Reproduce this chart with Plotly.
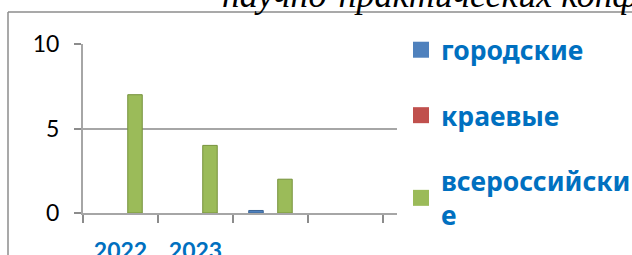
import plotly.graph_objects as go

# ---- data ----
categories = ["2022", "2023", "c3", "c4"]
tick_labels = ["2022", "2023", "", ""]
series_names = ["городские", "краевые", "всероссийски<br>е"]
gorodskie = [None, None, 0.15, None]
kraevye = [None, None, None, None]
vserossiyskie = [7, 4, 2, None]
y_ticks = [0, 5, 10]

colors = ["#4f81bd", "#c0504d", "#9bbb59"]
edge = ["#3a6496", "#943634", "#76923c"]
values = [gorodskie, kraevye, vserossiyskie]

W, H = 632, 255
def px_x(p):
    return p / W
def px_y(p):
    return (H - p) / H

fig = go.Figure()
for i, (name, vals) in enumerate(zip(series_names, values)):
    fig.add_trace(go.Bar(
        x=categories, y=vals, name=name,
        marker=dict(color=colors[i], line=dict(color=edge[i], width=1)),
        showlegend=False, legendgroup=f"g{i}",
    ))
    # legend proxy (square symbol)
    fig.add_trace(go.Scatter(
        x=[None], y=[None], mode="markers", name=name,
        marker=dict(symbol="square", size=16, color=colors[i]),
        legendgroup=f"g{i}", showlegend=True,
    ))

fig.update_layout(
    width=W, height=H,
    margin=dict(l=0, r=0, t=0, b=0, autoexpand=False),
    paper_bgcolor="white", plot_bgcolor="white",
    barmode="group", bargap=0.42, bargroupgap=0,
    font=dict(family="Lato, 'Noto Sans', sans-serif"),
    xaxis=dict(
        domain=[px_x(83), px_x(397)],
        type="category", tickmode="array", tickvals=categories, ticktext=tick_labels,
        tickson="boundaries", ticks="outside", ticklen=8, tickcolor="#8c8c8c", tickwidth=1.5,
        showline=True, linecolor="#a6a6a6", linewidth=2,
        showgrid=False,
        tickfont=dict(size=23, color="#0070c0", family="Lato, 'Noto Sans', sans-serif", weight="bold"),
        ticklabelstandoff=16,
        range=[-0.5, 3.687],
    ),
    yaxis=dict(
        domain=[px_y(213), px_y(44)],
        range=[0, 10], tickmode="array", tickvals=y_ticks,
        ticks="outside", ticklen=7, tickcolor="#8c8c8c", tickwidth=1.5,
        showline=True, linecolor="#a6a6a6", linewidth=2,
        showgrid=True, gridcolor="#a6a6a6", gridwidth=2,
        zeroline=False,
        tickfont=dict(size=23, color="black"),
        ticklabelstandoff=10,
    ),
    legend=dict(
        x=px_x(401), y=px_y(26), xanchor="left", yanchor="top",
        font=dict(size=26.5, color="#0070c0", weight="bold", family="'Noto Sans', sans-serif"),
        tracegroupgap=28, bgcolor="rgba(0,0,0,0)",
    ),
)

# frame of the surrounding slide element
fig.add_shape(type="line", xref="paper", yref="paper",
              x0=px_x(8), x1=1, y0=px_y(12), y1=px_y(12),
              line=dict(color="#8c8c8c", width=1.5))
fig.add_shape(type="line", xref="paper", yref="paper",
              x0=px_x(8), x1=px_x(8), y0=px_y(12), y1=0,
              line=dict(color="#8c8c8c", width=1.5))

# cut-off heading text at the top
fig.add_annotation(
    xref="paper", yref="paper", x=px_x(220), y=px_y(17),
    xanchor="left", yanchor="bottom", showarrow=False,
    text="<i>научно-практических конференциях</i>",
    font=dict(family="Liberation Serif, serif", size=36, color="black"),
)

fig.write_html(
    "out.html",
    config={"displayModeBar": False},
    post_script="document.body.style.margin='0';document.body.style.overflow='hidden';",
)
